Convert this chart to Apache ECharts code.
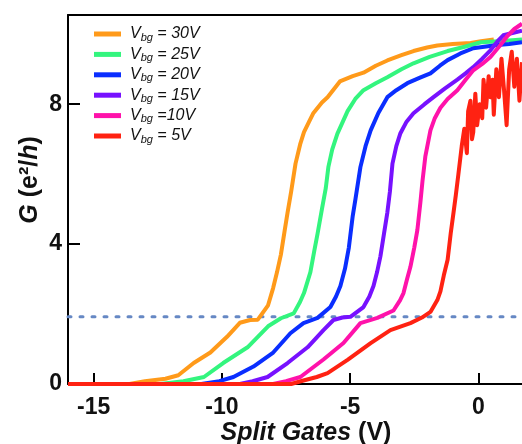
<!DOCTYPE html>
<html lang="en">
<head>
    <meta charset="UTF-8">
    <title>Split gate conductance</title>
    <script src="https://cdn.jsdelivr.net/npm/echarts@6/dist/echarts.min.js"></script>
    <style>
        html, body { margin: 0; padding: 0; background: #fff; }
        #chart { width: 522px; height: 444px; }
    </style>
</head>
<body>
<div id="chart"></div>
<script type="text/javascript">
    // back gate voltages, legend text and colours
    const series_names = ["30V", "25V", "20V", "15V", "10V", "5V"];
    const legend_texts = ["= 30V", "= 25V", "= 20V", "= 15V", "=10V", "= 5V"];
    const series_colors = ["#ff9a1a", "#33f57e", "#0a2eff", "#7711ff", "#ff12aa", "#ff2212"];

    const x_ticks = [-15, -10, -5, 0];
    const y_ticks = [0, 4, 8];
    const plateau_level = 1.92;

    // [split gate (V), G (e^2/h)]
    const vbg30 = [[-16, 0], [-13.6, 0], [-13.0, 0.08], [-12.2, 0.15], [-11.7, 0.25], [-11.1, 0.6], [-10.45, 0.9], [-9.8, 1.35],
        [-9.3, 1.75], [-8.9, 1.83], [-8.6, 1.84], [-8.2, 2.25], [-8.0, 2.75], [-7.85, 3.2], [-7.7, 3.7], [-7.55, 4.4],
        [-7.44, 4.9], [-7.3, 5.5], [-7.13, 6.3], [-6.95, 6.85], [-6.8, 7.2], [-6.6, 7.5], [-6.43, 7.75], [-6.1, 8.05],
        [-5.88, 8.2], [-5.4, 8.65], [-4.9, 8.8], [-4.48, 8.9], [-4.0, 9.1], [-3.55, 9.25], [-3.0, 9.4], [-2.53, 9.52],
        [-2.0, 9.62], [-1.6, 9.68], [-1.0, 9.72], [-0.3, 9.75], [0.1, 9.8], [0.6, 9.85]];
    const vbg25 = [[-16, 0], [-12.4, 0], [-11.5, 0.08], [-10.7, 0.2], [-9.95, 0.6], [-9.0, 1.05], [-8.6, 1.35], [-8.2, 1.65],
        [-7.7, 1.88], [-7.2, 2.02], [-6.95, 2.35], [-6.8, 2.6], [-6.55, 3.2], [-6.4, 3.8], [-6.27, 4.3], [-6.1, 5.0],
        [-5.95, 5.6], [-5.85, 6.2], [-5.7, 6.7], [-5.5, 7.15], [-5.1, 7.8], [-4.8, 8.15], [-4.48, 8.4], [-4.0, 8.6],
        [-3.55, 8.77], [-3.0, 9.0], [-2.53, 9.17], [-1.9, 9.35], [-1.2, 9.52], [-0.5, 9.65], [0.1, 9.77], [0.8, 9.8], [1.7, 9.85]];
    const vbg20 = [[-16, 0], [-10.8, 0], [-10.1, 0.08], [-9.55, 0.2], [-8.77, 0.5], [-8.0, 0.9], [-7.33, 1.45], [-6.82, 1.74],
        [-6.27, 1.89], [-5.77, 2.2], [-5.55, 2.5], [-5.38, 2.8], [-5.2, 3.3], [-5.05, 3.9], [-4.9, 4.8], [-4.79, 5.3],
        [-4.6, 6.2], [-4.4, 6.8], [-4.2, 7.25], [-3.9, 7.75], [-3.55, 8.2], [-3.2, 8.4], [-2.77, 8.6], [-2.3, 8.75],
        [-1.87, 8.88], [-1.5, 9.1], [-1.2, 9.26], [-0.7, 9.45], [-0.2, 9.6], [0.3, 9.65], [0.74, 9.69], [1.2, 9.72], [1.7, 9.77]];
    const vbg15 = [[-16, 0], [-9.3, 0], [-8.8, 0.08], [-8.22, 0.2], [-7.44, 0.6], [-6.66, 1.05], [-6.04, 1.54], [-5.65, 1.83],
        [-5.3, 1.9], [-4.99, 1.92], [-4.48, 2.2], [-4.25, 2.5], [-4.09, 2.8], [-3.95, 3.2], [-3.82, 3.65], [-3.68, 4.3],
        [-3.55, 4.9], [-3.45, 5.5], [-3.35, 6.3], [-3.2, 6.8], [-3.04, 7.17], [-2.8, 7.5], [-2.53, 7.74], [-2.1, 8.0],
        [-1.75, 8.2], [-1.3, 8.45], [-0.82, 8.7], [-0.5, 8.88], [-0.2, 9.06], [0.15, 9.3], [0.47, 9.54], [0.75, 9.8],
        [0.97, 9.97], [1.7, 10.1]];
    const vbg10 = [[-16, 0], [-8.0, 0], [-7.5, 0.08], [-6.94, 0.2], [-6.04, 0.7], [-5.26, 1.17], [-4.6, 1.74], [-3.94, 1.89],
        [-3.31, 2.1], [-3.05, 2.4], [-2.92, 2.6], [-2.78, 3.0], [-2.65, 3.35], [-2.5, 3.9], [-2.38, 4.4], [-2.26, 5.2],
        [-2.18, 5.8], [-2.07, 6.5], [-1.87, 7.25], [-1.7, 7.6], [-1.48, 7.9], [-1.2, 8.15], [-0.82, 8.4], [-0.5, 8.7],
        [-0.2, 8.97], [0.15, 9.15], [0.47, 9.35], [0.86, 9.69], [1.13, 9.95], [1.4, 10.15], [1.7, 10.3]];
    const vbg5 = [[-16, 0], [-7.3, 0], [-6.82, 0.1], [-6.3, 0.2], [-5.88, 0.31], [-5.1, 0.69], [-4.2, 1.17], [-3.43, 1.54],
        [-2.65, 1.74], [-2.2, 1.9], [-1.87, 2.06], [-1.6, 2.4], [-1.48, 2.65], [-1.35, 3.1], [-1.2, 3.55], [-1.08, 4.3],
        [-0.97, 4.9], [-0.88, 5.4], [-0.78, 6.0], [-0.65, 6.8], [-0.55, 7.3], [-0.45, 6.6], [-0.4, 7.8], [-0.31, 8.1],
        [-0.25, 7.0], [-0.2, 7.2], [-0.12, 8.3], [-0.05, 7.4], [0.05, 8.0], [0.15, 7.6], [0.2, 8.7], [0.3, 7.9],
        [0.4, 8.8], [0.47, 8.2], [0.55, 8.7], [0.6, 7.7], [0.7, 9.0], [0.8, 8.2], [0.9, 9.3], [1.0, 8.4], [1.1, 7.4],
        [1.2, 9.0], [1.3, 9.5], [1.4, 8.5], [1.5, 9.3], [1.6, 8.1], [1.7, 9.2]];

    const all_values = [vbg30, vbg25, vbg20, vbg15, vbg10, vbg5];

    const font_family = "'Liberation Sans', Arial, sans-serif";
    const x_min = -16, x_max = 1.7, y_min = 0, y_max = 10.55;

    const chart = echarts.init(document.getElementById("chart"));

    const curve_series = series_names.map((name, i) => ({
        name: name,
        type: "line",
        showSymbol: false,
        symbol: "none",
        animation: false,
        lineStyle: {width: 4, color: series_colors[i], join: "round"},
        itemStyle: {color: series_colors[i]},
        data: all_values[i],
        z: 3 + i
    }));

    // dotted reference line at the first plateau
    const plateau_series = {
        name: "plateau",
        type: "line",
        showSymbol: false,
        symbol: "none",
        animation: false,
        silent: true,
        lineStyle: {width: 3, color: "#6688c4", type: [3, 9], cap: "round"},
        data: [[x_min, plateau_level], [x_max, plateau_level]],
        z: 2
    };

    const option = {
        backgroundColor: "#fff",
        animation: false,
        grid: {left: 68, right: 0, top: 15, bottom: 60, containLabel: false, outerBoundsMode: "none"},
        legend: {
            data: series_names,
            orient: "vertical",
            left: 89,
            top: 21,
            icon: "rect",
            itemWidth: 27,
            itemHeight: 5,
            itemGap: 3.4,
            formatter: (name) => {
                const idx = series_names.indexOf(name);
                return "{v|V}{s|bg}{t| " + legend_texts[idx] + "}";
            },
            textStyle: {
                fontFamily: font_family,
                fontSize: 16,
                fontStyle: "italic",
                color: "#111",
                padding: [0, 0, 0, 4],
                rich: {
                    v: {fontSize: 16, fontStyle: "italic", fontFamily: font_family, color: "#111", lineHeight: 16},
                    s: {fontSize: 11, fontStyle: "italic", fontFamily: font_family, color: "#111", padding: [7, 0, 0, 0]},
                    t: {fontSize: 16, fontStyle: "italic", fontFamily: font_family, color: "#111", lineHeight: 16}
                }
            }
        },
        xAxis: [{
            type: "value",
            min: x_min,
            max: x_max,
            position: "bottom",
            name: "{i|Split Gates}{n| (V)}",
            nameLocation: "middle",
            nameGap: 37,
            nameMoveOverlap: false,
            nameTextStyle: {
                padding: [0, 0, 0, 22],
                rich: {
                    i: {fontSize: 25, fontWeight: "bold", fontStyle: "italic", fontFamily: font_family, color: "#111"},
                    n: {fontSize: 25, fontWeight: "bold", fontFamily: font_family, color: "#111"}
                }
            },
            axisLine: {show: true, onZero: false, lineStyle: {color: "#000", width: 2}},
            axisTick: {show: true, inside: true, length: 11, lineStyle: {color: "#000", width: 2}, customValues: x_ticks},
            axisLabel: {
                customValues: x_ticks, margin: 12, fontSize: 23, fontWeight: "bold",
                fontFamily: font_family, color: "#111", showMinLabel: true, showMaxLabel: true
            },
            splitLine: {show: false}
        }, {
            type: "value",
            min: x_min,
            max: x_max,
            position: "top",
            axisLine: {show: true, onZero: false, lineStyle: {color: "#000", width: 2}},
            axisTick: {show: false},
            axisLabel: {show: false},
            splitLine: {show: false}
        }],
        yAxis: {
            type: "value",
            min: y_min,
            max: y_max,
            axisLine: {show: true, onZero: false, lineStyle: {color: "#000", width: 2}},
            axisTick: {show: true, inside: true, length: 12, lineStyle: {color: "#000", width: 2}, customValues: y_ticks},
            axisLabel: {
                customValues: y_ticks, margin: 6, fontSize: 23, fontWeight: "bold",
                fontFamily: font_family, color: "#111"
            },
            splitLine: {show: false}
        },
        graphic: [{
            type: "text",
            x: 30,
            y: 180,
            rotation: Math.PI / 2,
            style: {
                text: "{i|G}{n| (e²/}{i|h}{n|)}",
                align: "center",
                verticalAlign: "middle",
                rich: {
                    i: {fontSize: 25, fontWeight: "bold", fontStyle: "italic", fontFamily: font_family, fill: "#111"},
                    n: {fontSize: 25, fontWeight: "bold", fontFamily: font_family, fill: "#111"}
                }
            }
        }],
        series: [plateau_series].concat(curve_series)
    };

    chart.setOption(option);
</script>
</body>
</html>
